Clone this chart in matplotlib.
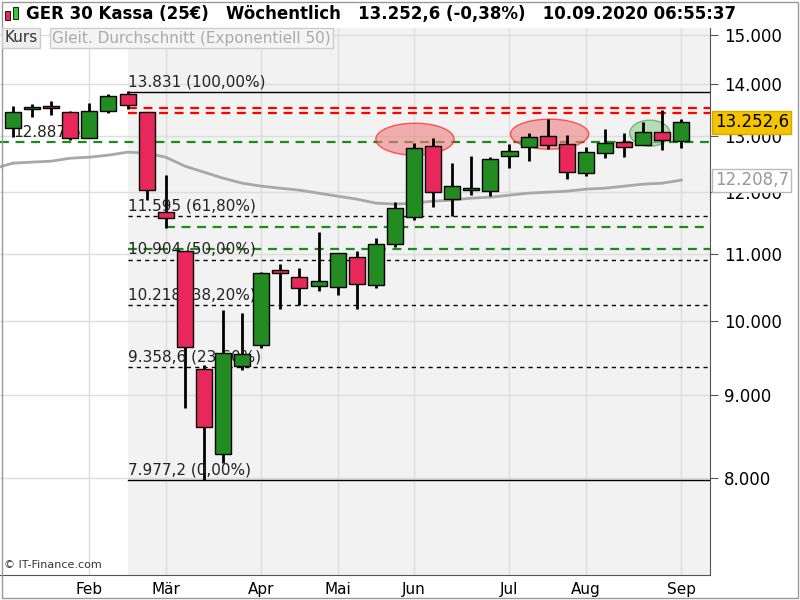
import numpy as np
import matplotlib
matplotlib.use("Agg")
import matplotlib.pyplot as plt
from matplotlib.patches import Rectangle

opens  = [13142,13501,13520,13444,12957,13463,13791,13444,11666,11037,9336,8276,9376,9659,10744,10637,10503,10488,10944,10518,
          11148,11584,12810,11883,12035,12018,12630,12792,12994,12847,12329,12684,12883,12829,13068,12902]
closes = [13444,13520,13515,12957,13463,13752,13579,12035,11567,9632,8600,9551,9537,10698,10698,10473,10577,11006,10532,11148,
          11732,12774,12001,12104,12069,12577,12720,12975,12829,12347,12702,12865,12792,13068,12920,13252.6]
highs  = [13558,13598,13655,13463,13617,13791,13850,13444,12294,11037,9390,10151,10108,10713,10835,10774,11339,11006,11037,11243,
          11833,12865,12957,12506,12630,12612,12847,13049,13311,13012,12792,13124,13049,13254,13482,13311]
lows   = [12975,13349,13387,12920,12957,13425,13501,11866,11404,8834,7977.2,8171,9323,9619,10165,10223,10428,10370,10165,10473,
          11100,11534,11749,11600,11950,11933,12417,12541,12756,12224,12277,12594,12612,12829,12738,12774]
ema50  = [12506,12524,12541,12594,12612,12648,12702,12684,12612,12453,12347,12242,12155,12104,12069,12035,11984,11933,11883,11816,
          11799,11816,11849,11866,11900,11916,11950,11984,12001,12018,12052,12069,12104,12138,12155,12208.7]
fib_levels = [13831, 11595, 10904, 10218, 9358.6, 7977.2]
fib_labels = ["13.831 (100,00%)", "11.595 (61,80%)", "10.904 (50,00%)", "10.218 (38,20%)", "9.358,6 (23,60%)", "7.977,2 (0,00%)"]
red_lines = [13520, 13425]
green_lines = [12887.6, 11420, 11071]
month_pos = [4, 8, 13, 17, 21, 26, 30, 35]
month_labels = ["Feb", "Mär", "Apr", "Mai", "Jun", "Jul", "Aug", "Sep"]
price_ticks = [8000, 9000, 10000, 11000, 12000, 13000, 14000, 15000]
price_tick_labels = ["8.000", "9.000", "10.000", "11.000", "12.000", "13.000", "14.000", "15.000"]
ellipses = [(21.05, 12938, 2.05, 0.0227, "#f08080", "red"),
            (28.1, 13031, 2.05, 0.0213, "#f08080", "red"),
            (33.35, 13049, 1.05, 0.0185, "#8fcc8f", "#339933")]

fig = plt.figure(figsize=(8, 6), dpi=100)
ax = fig.add_axes([0, 25/600, 710/800, 547/600])
x0, x1 = -0.68, 36.5
ax.set_xlim(x0, x1)
ax.set_yscale("log")
ax.set_ylim(6970, 15150)
ax.set_facecolor("white")
fib_start = 6.0
ax.axvspan(fib_start, x1, color="#f2f2f2", zorder=0)

for p in price_ticks:
    ax.axhline(p, color="#dddddd", lw=1, zorder=0.5)
for m in month_pos:
    ax.axvline(m, color="#dddddd", lw=1, zorder=0.5)

for i, (lv, lb) in enumerate(zip(fib_levels, fib_labels)):
    solid = i in (0, len(fib_levels) - 1)
    ax.plot([fib_start, x1], [lv, lv], color="black", lw=1, ls="-" if solid else (0, (3, 3)), zorder=1)
    ax.text(fib_start, lv * 1.004, lb, fontsize=11, color="#222222", va="bottom", ha="left", zorder=5)

for lv in red_lines:
    ax.plot([fib_start, x1], [lv, lv], color="red", lw=1.6, ls=(0, (4, 3)), zorder=2)
ax.plot([x0, x1], [green_lines[0]] * 2, color="#1a8c1a", lw=1.6, ls=(0, (4, 3)), zorder=2)
ax.plot([8, x1], [green_lines[1]] * 2, color="#1a8c1a", lw=1.6, ls=(0, (4, 3)), zorder=2)
ax.plot([fib_start, x1], [green_lines[2]] * 2, color="#1a8c1a", lw=1.6, ls=(0, (4, 3)), zorder=2)
ax.text(x0 + 0.7, green_lines[0] * 1.003, "12.887,6", fontsize=11, color="#222222", va="bottom", zorder=5)

xs = np.arange(len(opens))
ax.plot(xs, ema50, color="#a8a8a8", lw=2, zorder=3)
ax.plot([x0, 0], [12440, ema50[0]], color="#a8a8a8", lw=2, zorder=3)

th = np.linspace(0, 2*np.pi, 200)
for cx, cy, a, b, fc, ec in ellipses:
    ex = cx + a*np.cos(th)
    ey = np.exp(np.log(cy) + b*np.sin(th))
    ax.fill(ex, ey, facecolor=fc, edgecolor=ec, alpha=0.6, lw=1, zorder=3.5)

w = 0.84
for i in xs:
    o, c, h, l = opens[i], closes[i], highs[i], lows[i]
    ax.plot([i, i], [l, h], color="black", lw=2, zorder=4, solid_capstyle="butt")
    col = "#228b22" if c >= o else "#e8285a"
    lo, hi = min(o, c), max(o, c)
    if hi / lo < 1.002:
        hi = lo * 1.003
    ax.add_patch(Rectangle((i - w/2, lo), w, hi - lo, facecolor=col, edgecolor="black", lw=1, zorder=5))

ax.set_xticks(month_pos)
ax.set_xticklabels(month_labels, fontsize=11)
ax.yaxis.tick_right()
ax.yaxis.set_minor_locator(matplotlib.ticker.NullLocator())
ax.set_yticks(price_ticks)
ax.set_yticklabels(price_tick_labels, fontsize=12)
ax.tick_params(axis="y", length=6, color="#555555", pad=4)
ax.tick_params(axis="x", length=0, pad=5)
for s in ["top", "left"]:
    ax.spines[s].set_visible(False)
ax.spines["right"].set_color("#555555")
ax.spines["bottom"].set_color("#555555")

ax.text(x1 + 0.25, closes[-1], "13.252,6", fontsize=12, va="center", ha="left", clip_on=False, zorder=10,
        bbox=dict(boxstyle="square,pad=0.15", facecolor="#f5c400", edgecolor="#d4a800"))
ax.text(x1 + 0.25, ema50[-1], "12.208,7", fontsize=12, va="center", ha="left", color="#999999", clip_on=False, zorder=10,
        bbox=dict(boxstyle="square,pad=0.15", facecolor="white", edgecolor="#bbbbbb"))

fig.text(0.033, 1 - 14/600, "GER 30 Kassa (25€)   Wöchentlich   13.252,6 (-0,38%)   10.09.2020 06:55:37",
         fontsize=12, fontweight="bold", va="center", ha="left")
fig.patches.append(Rectangle((5/800, 1-20/600), 5/800, 9/600, transform=fig.transFigure, facecolor="#e8285a", edgecolor="black", lw=0.6))
fig.patches.append(Rectangle((13/800, 1-19/600), 5/800, 12/600, transform=fig.transFigure, facecolor="#33cc33", edgecolor="black", lw=0.6))
fig.text(4/800, 1 - 38/600, "Kurs", fontsize=11, color="#333333", va="center",
         bbox=dict(boxstyle="square,pad=0.15", facecolor="#eeeeee", edgecolor="#cccccc"))
fig.text(52/800, 1 - 38/600, "Gleit. Durchschnitt (Exponentiell 50)", fontsize=11, color="#aaaaaa", va="center",
         bbox=dict(boxstyle="square,pad=0.15", facecolor="#f4f4f4", edgecolor="#cccccc"))
fig.text(4/800, 1 - 565/600, "© IT-Finance.com", fontsize=8, color="#333333", va="center")
fig.patches.append(Rectangle((0.002, 0.003), 0.996, 0.994, transform=fig.transFigure, fill=False, edgecolor="#999999", lw=1))

fig.savefig("out.png", dpi=100)
